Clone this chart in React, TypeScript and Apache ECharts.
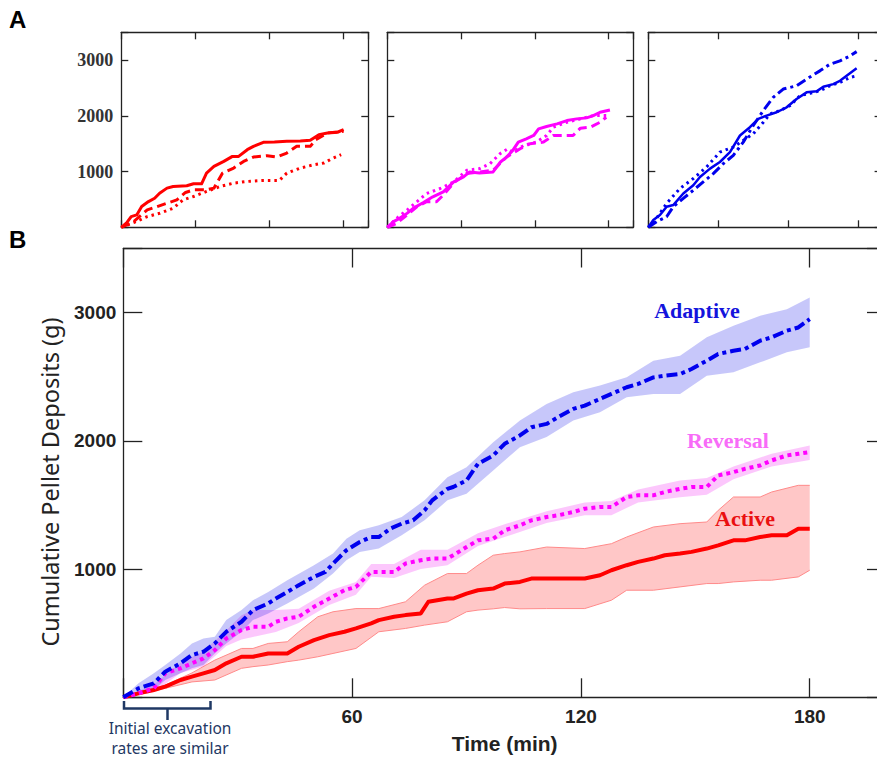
import React, { useEffect, useRef } from "react";
import * as echarts from "echarts";

// ---------------- Panel B data (time in min, cumulative deposits in g) ----------------
const adaptiveMean: number[][] = [
  [0, 0], [4, 70], [8, 109], [11, 200], [15, 265], [18, 330], [21, 355], [24, 420], [27, 511], [31, 589],
  [34, 680], [38, 732], [40, 770], [43, 822], [46, 874], [50, 939], [53, 978], [55, 1043], [58.5, 1147],
  [62, 1211], [65, 1250], [67, 1250], [70, 1315], [73, 1354], [76, 1380], [79, 1458], [81, 1536], [85, 1626],
  [86.5, 1640], [90, 1691], [93, 1821], [97, 1886], [100, 1977], [104, 2042], [107, 2106], [111, 2132],
  [114, 2184], [118, 2249], [121, 2275], [125, 2327], [128, 2366], [132, 2418], [135, 2444], [139, 2495],
  [142, 2508], [146, 2521], [149, 2560], [153, 2625], [156, 2677], [160, 2703], [163, 2716], [167, 2781],
  [170, 2807], [174, 2859], [177, 2884], [180, 2949],
];
const adaptiveBandT = [0, 4, 8, 11, 15, 18, 21, 24, 27, 31, 34, 38, 43, 50, 55, 58.5, 62, 67, 73, 79, 85, 90, 97, 104, 111, 118, 125, 132, 139, 146, 153, 160, 167, 174, 180];
const adaptiveUpper = [0, 109, 187, 252, 342, 420, 459, 472, 602, 680, 757, 822, 913, 1030, 1121, 1237, 1302, 1341, 1406, 1536, 1717, 1795, 1990, 2158, 2288, 2379, 2431, 2495, 2625, 2664, 2807, 2897, 2975, 3027, 3118];
const adaptiveLower = [0, 31, 57, 135, 187, 226, 252, 342, 420, 511, 602, 654, 732, 848, 965, 1069, 1134, 1160, 1263, 1380, 1536, 1588, 1769, 1951, 2029, 2158, 2223, 2340, 2366, 2366, 2508, 2534, 2612, 2690, 2729];

const reversalMean: number[][] = [
  [0, 0], [4, 31], [8, 70], [11, 187], [15, 226], [18, 265], [21, 303], [24, 368], [27, 459], [31, 524],
  [34, 550], [38, 550], [40, 589], [43, 615], [46, 628], [50, 706], [54, 770], [58, 835], [61, 861], [65, 978],
  [67, 978], [71, 978], [74, 1043], [78, 1069], [81, 1082], [85, 1082], [86.5, 1108], [90, 1172], [93, 1224],
  [97, 1237], [100, 1302], [104, 1341], [107, 1380], [111, 1406], [114, 1419], [118, 1445], [121, 1471],
  [125, 1484], [128, 1484], [132, 1562], [135, 1575], [139, 1575], [142, 1601], [146, 1626], [149, 1640],
  [153, 1640], [156, 1730], [160, 1756], [163, 1782], [167, 1808], [170, 1847], [174, 1886], [177, 1899], [180, 1912],
];
const reversalBandT = [0, 8, 15, 21, 27, 31, 34, 40, 46, 54, 61, 65, 71, 78, 85, 93, 100, 111, 121, 128, 135, 146, 153, 160, 170, 180];
const reversalUpper = [0, 100, 270, 360, 520, 640, 680, 680, 690, 830, 900, 1040, 1040, 1150, 1150, 1280, 1350, 1450, 1520, 1530, 1620, 1690, 1710, 1800, 1900, 1964];
const reversalLower = [0, 40, 190, 240, 400, 450, 470, 510, 580, 720, 800, 940, 930, 1000, 1030, 1180, 1250, 1360, 1420, 1420, 1520, 1560, 1580, 1700, 1800, 1850];

const activeMean: number[][] = [
  [0, 0], [4, 31], [8, 57], [11, 83], [15, 135], [18, 161], [21, 187], [24, 213], [27, 265], [31, 316],
  [34, 316], [38, 342], [43, 342], [46, 394], [50, 446], [54, 485], [58, 511], [61, 537], [65, 576], [67, 602],
  [71, 628], [74, 641], [78, 654], [80, 745], [85, 770], [86.5, 770], [90, 809], [93, 835], [97, 848], [100, 887],
  [104, 900], [107, 926], [121, 926], [125, 952], [128, 991], [132, 1030], [135, 1056], [139, 1082], [142, 1108],
  [146, 1121], [149, 1134], [153, 1160], [156, 1185], [160, 1224], [163, 1224], [167, 1250], [170, 1263],
  [174, 1263], [177, 1315], [180, 1315],
];
const activeBandT = [0, 11, 18, 24, 31, 34, 38, 43, 46, 51, 55, 61, 67, 74, 79, 85, 90, 93, 97, 100, 104, 111, 121, 128, 132, 139, 146, 153, 156, 160, 167, 170, 177, 180];
const activeUpper = [0, 95, 190, 290, 381, 381, 420, 433, 511, 628, 667, 692, 692, 745, 874, 965, 965, 1030, 1108, 1121, 1134, 1172, 1160, 1198, 1250, 1328, 1354, 1367, 1458, 1562, 1562, 1601, 1653, 1653];
const activeLower = [0, 70, 120, 135, 226, 239, 252, 278, 290, 316, 342, 381, 511, 537, 563, 589, 667, 680, 690, 700, 690, 692, 692, 757, 835, 835, 861, 887, 887, 900, 913, 913, 939, 991];

// ---------------- Panel A data (individual trials) ----------------
const activeTrial1: number[][] = [
  [0, 0], [4, 72], [8, 192], [12.5, 222], [16.5, 372], [22, 462], [27, 522], [31, 612], [37, 703], [42, 733],
  [53, 745], [58.5, 781], [65, 781], [69, 973], [75, 1093], [83, 1183], [90, 1273], [95, 1273], [102, 1393],
  [107, 1453], [115, 1525], [124, 1531], [134, 1543], [145, 1550], [153, 1561], [160, 1663], [167, 1694],
  [175, 1706], [180, 1754],
];
const activeTrial2: number[][] = [
  [0, 0], [10, 102], [21, 312], [29, 372], [37, 432], [45, 492], [52, 625], [58.5, 673], [69, 673], [75, 703],
  [82, 973], [91, 1063], [99, 1183], [107, 1261], [118, 1285], [126, 1261], [134, 1333], [142, 1453],
  [153, 1453], [157.5, 1573], [167, 1694], [180, 1724],
];
const activeTrial3: number[][] = [
  [0, 0], [10, 84], [21, 192], [31, 252], [42, 342], [50, 492], [58.5, 553], [69, 643], [80, 733], [91, 793],
  [102, 823], [115, 841], [128, 841], [134, 973], [145, 1063], [156, 1123], [164, 1153], [170, 1225], [178, 1303],
];
const reversalTrial1: number[][] = [
  [0, 0], [5, 101], [10, 161], [16, 250], [21, 339], [29, 440], [37, 547], [45.5, 637], [54, 815], [62, 904],
  [67, 994], [75, 976], [86, 994], [92, 1172], [97, 1261], [102, 1380], [106.5, 1529], [113, 1589], [119, 1648],
  [123, 1767], [129.5, 1809], [138, 1856], [146, 1916], [154, 1946], [162, 1964], [167.5, 2005], [173, 2065], [181, 2106],
];
const reversalTrial2: number[][] = [
  [0, 0], [7.6, 71], [16, 220], [24, 369], [32, 458], [40, 458], [45.5, 577], [54, 797], [64.5, 964], [75, 994],
  [86, 1023], [97, 1261], [108, 1410], [116, 1499], [127, 1529], [135, 1648], [151, 1648], [157, 1779],
  [165, 1797], [173, 1886], [178, 1975],
];
const reversalTrial3: number[][] = [
  [0, 0], [7.6, 161], [16, 309], [24, 458], [32, 607], [43, 696], [54, 815], [64.5, 1023], [75, 1053],
  [83.5, 1142], [91.6, 1321], [98, 1410], [102, 1350], [111, 1470], [121, 1529], [129.5, 1648], [135, 1797],
  [146, 1886], [157, 1946], [167.5, 2005], [178, 2005],
];
const adaptiveTrial1: number[][] = [
  [0, 0], [4.3, 131], [10, 220], [15.7, 369], [21.4, 399], [30, 607], [38.6, 756], [44.3, 904], [52.9, 1053],
  [61.4, 1172], [70, 1350], [78.6, 1648], [87.1, 1797], [94.3, 1946], [101.4, 2005], [110, 2065], [118.6, 2154],
  [127.1, 2303], [135.7, 2422], [144.3, 2440], [150, 2523], [158.6, 2570], [164.3, 2630], [170, 2719], [178.6, 2856],
];
const adaptiveTrial2: number[][] = [
  [0, 0], [7.1, 101], [15.7, 190], [21.4, 369], [30, 518], [38.6, 666], [47.1, 815], [55.7, 964], [64.3, 1142],
  [72.9, 1291], [81.4, 1529], [90, 1827], [98.6, 2095], [107.1, 2332], [115.7, 2481], [127.1, 2540],
  [135.7, 2660], [147.1, 2808], [155.7, 2927], [164.3, 2987], [172.9, 3076], [178.6, 3153],
];
const adaptiveTrial3: number[][] = [
  [0, 0], [7.1, 161], [15.7, 428], [27.1, 696], [38.6, 875], [50, 1083], [61.4, 1350], [72.9, 1440],
  [81.4, 1559], [90, 1678], [98.6, 1886], [104.3, 2035], [112.9, 2094], [121.4, 2184], [130, 2362],
  [138.6, 2404], [147.1, 2451], [155.7, 2540], [164.3, 2600], [172.9, 2689], [178.6, 2719],
];

const xTickLabels = [60, 120, 180];
const yTickLabels = [1000, 2000, 3000];

const RED = "#ff0000";
const MAGENTA = "#ff00ff";
const BLUE = "#0000ee";

function buildOption() {
  const grids = [
    { left: 121.3, top: 32.3, width: 247, height: 195 },
    { left: 387.3, top: 32.3, width: 246, height: 195 },
    { left: 648.3, top: 32.3, width: 233.3, height: 195 },
    { left: 123.3, top: 248.5, width: 762.7, height: 448.8 },
  ];
  const axisLine = { show: true, onZero: false, lineStyle: { color: "#222", width: 1.3 } };
  const xAxis: any[] = [];
  const yAxis: any[] = [];
  grids.forEach((g, gi) => {
    const big = gi === 3;
    const tick = { show: true, inside: true, length: big ? 19 : 7, lineStyle: { color: "#222", width: 1.3 } };
    const xBase = { type: "value", gridIndex: gi, min: 0, max: 200, interval: 60, axisLine, axisTick: tick, splitLine: { show: false } };
    const yBase = { type: "value", gridIndex: gi, min: 0, max: 3500, interval: 1000, axisLine, axisTick: tick, splitLine: { show: false } };
    xAxis.push({
      ...xBase,
      position: "bottom",
      axisLabel: big
        ? {
            show: true,
            margin: 10,
            fontFamily: "Liberation Sans, Arial, sans-serif",
            fontWeight: "bold",
            fontSize: 19,
            color: "#222",
            formatter: (v: number) => (xTickLabels.includes(v) ? String(v) : ""),
          }
        : { show: false },
      name: big ? "Time (min)" : "",
      nameLocation: "middle",
      nameGap: 46,
      nameTextStyle: { fontFamily: "Liberation Sans, Arial, sans-serif", fontWeight: "bold", fontSize: 21, color: "#222", verticalAlign: "middle" },
    });
    xAxis.push({ ...xBase, position: "top", axisLabel: { show: false } });
    yAxis.push({
      ...yBase,
      position: "left",
      axisLabel:
        gi === 0 || big
          ? {
              show: true,
              margin: big ? 7 : 8,
              fontFamily: big ? "Liberation Sans, Arial, sans-serif" : "Liberation Serif, Times New Roman, serif",
              fontWeight: "bold",
              fontSize: big ? 19 : 18,
              color: big ? "#222" : "#333",
              formatter: (v: number) => (yTickLabels.includes(v) ? String(v) : ""),
            }
          : { show: false },
    });
    yAxis.push({ ...yBase, position: "right", axisLabel: { show: false } });
  });

  const line = (gi: number, data: number[][], color: string, width: number, type: any, z = 3) => ({
    type: "line",
    xAxisIndex: gi * 2,
    yAxisIndex: gi * 2,
    data,
    showSymbol: false,
    symbol: "none",
    silent: true,
    z,
    lineStyle: { color, width, type, cap: "butt", join: "round" },
  });

  // shaded band between lower and upper curves, drawn through the axes' own coordinate mapping
  const band = (t: number[], lo: number[], hi: number[], fill: string, edge: string | null) => ({
    type: "custom",
    coordinateSystem: "cartesian2d",
    xAxisIndex: 6,
    yAxisIndex: 6,
    silent: true,
    z: 2,
    data: t.map((x, i) => [x, lo[i], hi[i]]),
    encode: { x: 0, y: [1, 2] },
    renderItem: (params: any, api: any) => {
      if (params.dataIndex !== 0) return null;
      const up = t.map((x, i) => api.coord([x, hi[i]]));
      const dn = t.map((x, i) => api.coord([x, lo[i]]));
      const children: any[] = [
        { type: "polygon", shape: { points: up.concat(dn.slice().reverse()) }, style: { fill, stroke: null } },
      ];
      if (edge) {
        children.push({ type: "polyline", shape: { points: up }, style: { stroke: edge, lineWidth: 1, fill: null } });
        children.push({ type: "polyline", shape: { points: dn }, style: { stroke: edge, lineWidth: 1, fill: null } });
      }
      return { type: "group", children };
    },
  });

  const dash = [9, 5];
  const dot = [2.5, 4];
  const dashDot = [10, 4, 3, 4];

  const series: any[] = [
    // Panel A
    line(0, activeTrial3, RED, 3, dot),
    line(0, activeTrial2, RED, 3, dash),
    line(0, activeTrial1, RED, 3, "solid"),
    line(1, reversalTrial3, MAGENTA, 3, dot),
    line(1, reversalTrial2, MAGENTA, 3, dash),
    line(1, reversalTrial1, MAGENTA, 3, "solid"),
    line(2, adaptiveTrial3, BLUE, 3, dot),
    line(2, adaptiveTrial2, BLUE, 3, dashDot),
    line(2, adaptiveTrial1, BLUE, 2.5, "solid"),
    // Panel B bands
    band(activeBandT, activeLower, activeUpper, "rgba(255,0,0,0.22)", "#ff8a8a"),
    band(reversalBandT, reversalLower, reversalUpper, "rgba(240,0,240,0.22)", null),
    band(adaptiveBandT, adaptiveLower, adaptiveUpper, "rgba(0,0,230,0.22)", null),
    // Panel B means
    line(3, activeMean, RED, 4, "solid", 4),
    line(3, reversalMean, MAGENTA, 4, [4, 4], 4),
    line(3, adaptiveMean, BLUE, 4, [11, 4, 4, 4], 5),
  ];

  const serifBold = "Liberation Serif, Times New Roman, serif";
  const navy = "#1f3864";
  const graphic: any[] = [
    { type: "text", x: 9, y: 19, style: { text: "A", fontSize: 24, fontWeight: "bold", fontFamily: "Liberation Sans, Arial, sans-serif", fill: "#000", align: "left", verticalAlign: "middle" } },
    { type: "text", x: 9, y: 239, style: { text: "B", fontSize: 24, fontWeight: "bold", fontFamily: "Liberation Sans, Arial, sans-serif", fill: "#000", align: "left", verticalAlign: "middle" } },
    { type: "text", x: 50, y: 482, rotation: Math.PI / 2, style: { text: "Cumulative Pellet Deposits (g)", fontSize: 23.5, fontFamily: "Noto Sans, sans-serif", fill: "#222", align: "center", verticalAlign: "middle" } },
    { type: "text", x: 697, y: 310, z: 10, style: { text: "Adaptive", fontSize: 22, fontWeight: "bold", fontFamily: serifBold, fill: "#1414dc", align: "center", verticalAlign: "middle" } },
    { type: "text", x: 728, y: 440, z: 10, style: { text: "Reversal", fontSize: 22, fontWeight: "bold", fontFamily: serifBold, fill: "#f86cf8", align: "center", verticalAlign: "middle" } },
    { type: "text", x: 745, y: 518, z: 10, style: { text: "Active", fontSize: 22, fontWeight: "bold", fontFamily: serifBold, fill: "#ea1010", align: "center", verticalAlign: "middle" } },
    { type: "polyline", shape: { points: [[124, 701], [124, 708.5], [210.5, 708.5], [210.5, 701]] }, style: { stroke: navy, lineWidth: 2.5, fill: null } },
    { type: "line", shape: { x1: 167.5, y1: 708.5, x2: 167.5, y2: 720 }, style: { stroke: navy, lineWidth: 2.5 } },
    { type: "text", x: 170, y: 728, style: { text: "Initial excavation", fontSize: 15.5, fontFamily: "Noto Sans, sans-serif", fill: navy, align: "center", verticalAlign: "middle" } },
    { type: "text", x: 170, y: 748, style: { text: "rates are similar", fontSize: 15.5, fontFamily: "Noto Sans, sans-serif", fill: navy, align: "center", verticalAlign: "middle" } },
  ];

  return { animation: false, backgroundColor: "#fff", grid: grids, xAxis, yAxis, series, graphic };
}

export default function App() {
  const ref = useRef<HTMLDivElement>(null);
  useEffect(() => {
    if (!ref.current) return;
    const chart = echarts.init(ref.current, undefined, { renderer: "svg" });
    chart.setOption(buildOption() as any);
    return () => chart.dispose();
  }, []);
  return (
    <div style={{ position: "fixed", left: 0, top: 0, width: 877, height: 759, overflow: "hidden", background: "#fff" }}>
      <div ref={ref} style={{ width: 900, height: 759 }} />
    </div>
  );
}
